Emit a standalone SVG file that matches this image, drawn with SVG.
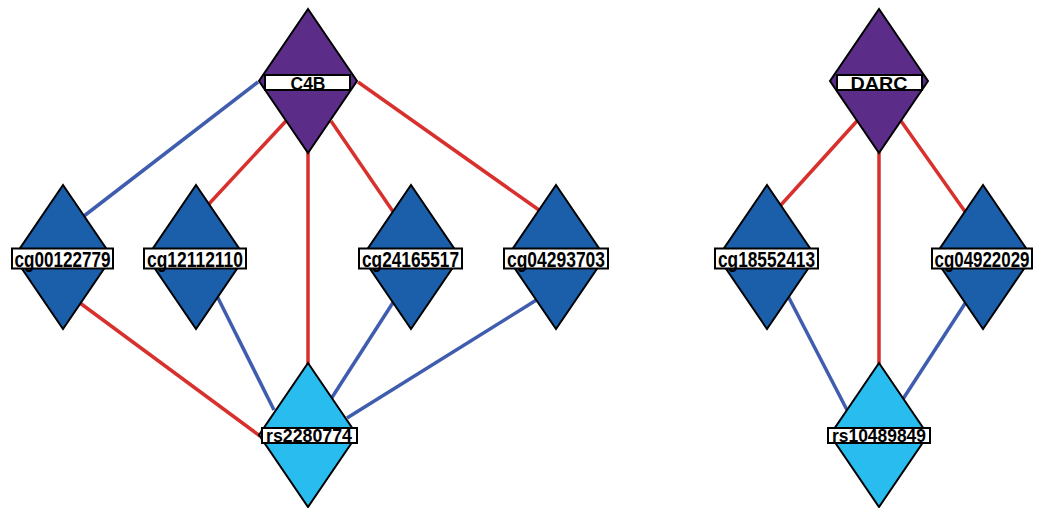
<svg xmlns="http://www.w3.org/2000/svg" xmlns:xlink="http://www.w3.org/1999/xlink" width="1037" height="508" viewBox="0 0 1037 508">
  <style>
    .edge { fill: none; stroke-width: 3.5; stroke-linecap: butt; }
    .pos { stroke: #d8312d; }
    .neg { stroke: #3f5cae; }
    .node-shape { stroke: #000; stroke-width: 2; stroke-linejoin: miter; }
    .gene { fill: #5c2d88; }
    .cpg { fill: #1b5fab; }
    .snp { fill: #29bdef; }
    .lbl-box { fill: #fff; stroke: #000; stroke-width: 2; }
    .lbl { font-family: "Liberation Sans", Arial, sans-serif; font-weight: bold; fill: #000; text-anchor: middle; }
    .lbl-s { font-size: 18px; }
    .lbl-l { font-size: 22px; }
  </style>
  <defs>
    <polygon id="diamond" points="0,-72 49,0 0,72 -49,0"/>
  </defs>
  <rect width="1037" height="508" fill="#fff"/>

  <g id="connectors">
    <!-- C4B module -->
    <line class="edge neg" x1="258" y1="82" x2="84" y2="216"/>
    <line class="edge pos" x1="286" y1="121" x2="207" y2="206"/>
    <line class="edge pos" x1="308" y1="150" x2="308" y2="365"/>
    <line class="edge pos" x1="331" y1="121" x2="394" y2="213"/>
    <line class="edge pos" x1="358" y1="82" x2="539" y2="210"/>
    <line class="edge pos" x1="80" y1="303" x2="260" y2="436"/>
    <line class="edge neg" x1="217" y1="296" x2="274" y2="410"/>
    <line class="edge neg" x1="394" y1="301" x2="331" y2="399"/>
    <line class="edge neg" x1="538" y1="299" x2="347" y2="418"/>
    <!-- DARC module -->
    <line class="edge pos" x1="857" y1="121" x2="780" y2="206"/>
    <line class="edge pos" x1="879" y1="150" x2="879" y2="365"/>
    <line class="edge pos" x1="901" y1="121" x2="966" y2="213"/>
    <line class="edge neg" x1="788" y1="296" x2="847" y2="410"/>
    <line class="edge neg" x1="966" y1="302" x2="903" y2="399"/>
  </g>

  <g id="C4B">
    <use xlink:href="#diamond" class="node-shape gene" transform="translate(308,81)"/>
    <rect class="lbl-box" x="265" y="75" width="85" height="15"/>
    <text class="lbl lbl-s" x="308" y="89.5" textLength="35" lengthAdjust="spacingAndGlyphs">C4B</text>
  </g>

  <g id="DARC">
    <use xlink:href="#diamond" class="node-shape gene" transform="translate(879,81)"/>
    <rect class="lbl-box" x="837" y="75" width="85" height="15"/>
    <text class="lbl lbl-s" x="879" y="89.5" textLength="57" lengthAdjust="spacingAndGlyphs">DARC</text>
  </g>

  <g id="cg00122779">
    <use xlink:href="#diamond" class="node-shape cpg" transform="translate(63,257)"/>
    <rect class="lbl-box" x="12" y="248.5" width="101" height="20"/>
    <text class="lbl lbl-l" x="62.5" y="267" textLength="96" lengthAdjust="spacingAndGlyphs">cg00122779</text>
  </g>

  <g id="cg12112110">
    <use xlink:href="#diamond" class="node-shape cpg" transform="translate(196,257)"/>
    <rect class="lbl-box" x="144" y="248.5" width="102" height="20"/>
    <text class="lbl lbl-l" x="195" y="267" textLength="96" lengthAdjust="spacingAndGlyphs">cg12112110</text>
  </g>

  <g id="cg24165517">
    <use xlink:href="#diamond" class="node-shape cpg" transform="translate(411,257)"/>
    <rect class="lbl-box" x="359" y="248.5" width="103" height="20"/>
    <text class="lbl lbl-l" x="410.5" y="267" textLength="97" lengthAdjust="spacingAndGlyphs">cg24165517</text>
  </g>

  <g id="cg04293703">
    <use xlink:href="#diamond" class="node-shape cpg" transform="translate(556,257)"/>
    <rect class="lbl-box" x="504" y="248.5" width="104" height="20"/>
    <text class="lbl lbl-l" x="556" y="267" textLength="98" lengthAdjust="spacingAndGlyphs">cg04293703</text>
  </g>

  <g id="cg18552413">
    <use xlink:href="#diamond" class="node-shape cpg" transform="translate(767,257)"/>
    <rect class="lbl-box" x="715" y="248.5" width="103" height="20"/>
    <text class="lbl lbl-l" x="766.5" y="267" textLength="97" lengthAdjust="spacingAndGlyphs">cg18552413</text>
  </g>

  <g id="cg04922029">
    <use xlink:href="#diamond" class="node-shape cpg" transform="translate(983,257)"/>
    <rect class="lbl-box" x="932" y="248.5" width="100" height="20"/>
    <text class="lbl lbl-l" x="982" y="267" textLength="95" lengthAdjust="spacingAndGlyphs">cg04922029</text>
  </g>

  <g id="rs2280774">
    <use xlink:href="#diamond" class="node-shape snp" transform="translate(308,435)"/>
    <rect class="lbl-box" x="262" y="428" width="95" height="15"/>
    <text class="lbl lbl-s" x="309" y="442" textLength="86" lengthAdjust="spacingAndGlyphs">rs2280774</text>
  </g>

  <g id="rs10489849">
    <use xlink:href="#diamond" class="node-shape snp" transform="translate(879,435)"/>
    <rect class="lbl-box" x="828" y="428" width="102" height="15"/>
    <text class="lbl lbl-s" x="879" y="442" textLength="94" lengthAdjust="spacingAndGlyphs">rs10489849</text>
  </g>
</svg>
